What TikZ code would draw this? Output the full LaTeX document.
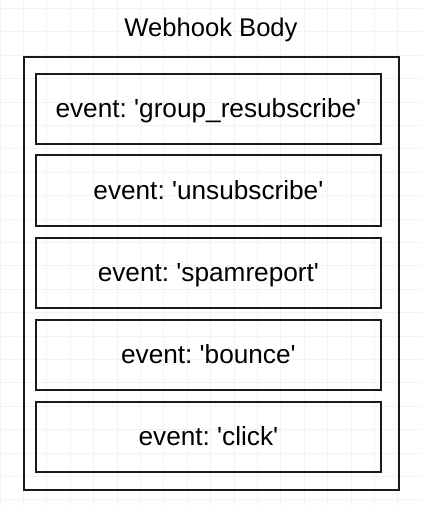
\documentclass[tikz,border=0pt]{standalone}
\usepackage{fontspec}
\setmainfont{Liberation Sans}
\frenchspacing
\definecolor{gridc}{HTML}{F3F3F3}
\definecolor{linec}{HTML}{1A1A1A}
\newcommand{\sq}{\textquotesingle}
\tikzset{
  evbox/.style={draw=linec, line width=2pt, minimum width=345.3pt, minimum height=70.5pt,
    inner sep=0pt, text height=17.4pt, text depth=0pt, font=\fontsize{26.2}{30}\selectfont},
  outerbox/.style={draw=linec, line width=2pt},
  titletext/.style={font=\fontsize{25.6}{30}\selectfont, anchor=base, inner sep=0pt}
}
\begin{document}
\begin{tikzpicture}[x=1pt,y=-1pt]
\useasboundingbox (0,0) rectangle (421,507);
\fill[white] (0,0) rectangle (421,507);
% grid
\foreach \i in {0,...,18} { \draw[gridc, line width=0.7pt] ({\i*23.4},0) -- ({\i*23.4},507); }
\foreach \j in {0,...,21} { \draw[gridc, line width=0.7pt] (0,{8.3+\j*23.4}) -- (421,{8.3+\j*23.4}); }
% title
\node[titletext] (title) at (211,36) {Webhook Body};
% outer
\draw[outerbox] (24,56.7) rectangle (398.7,489.5);
% event boxes
\node[evbox] (e1) at (208.4,108.8) {event: \sq group\_resubscribe\sq};
\node[evbox] (e2) at (208.4,190.6) {event: \sq unsubscribe\sq};
\node[evbox] (e3) at (208.4,272.8) {event: \sq spamreport\sq};
\node[evbox] (e4) at (208.4,355.0) {event: \sq bounce\sq};
\node[evbox] (e5) at (208.4,437.2) {event: \sq click\sq};
\end{tikzpicture}
\end{document}
